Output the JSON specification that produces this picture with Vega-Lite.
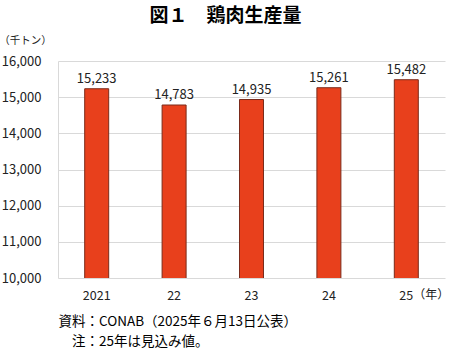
{
  "$schema": "https://vega.github.io/schema/vega-lite/v6.json",
  "width": 387,
  "height": 217,
  "autosize": "none",
  "padding": {"left": 58, "top": 61, "right": 5, "bottom": 72},
  "background": "white",
  "title": {
    "text": "図１　鶏肉生産量",
    "font": "Noto Sans CJK JP",
    "fontSize": 19,
    "fontWeight": "bold",
    "color": "#000000",
    "anchor": "middle",
    "frame": "group",
    "dx": -26,
    "offset": 9
  },
  "config": {
    "view": {"stroke": null},
    "font": "Noto Sans CJK JP"
  },
  "data": {
    "values": [
      {"year": "2021", "value": 15233},
      {"year": "22", "value": 14783},
      {"year": "23", "value": 14935},
      {"year": "24", "value": 15261},
      {"year": "25", "value": 15482}
    ]
  },
  "encoding": {
    "x": {
      "field": "year",
      "type": "nominal",
      "sort": null,
      "scale": {"paddingInner": 0.69, "paddingOuter": 0.345},
      "axis": {
        "labelAngle": 0,
        "labelFont": "Noto Sans CJK JP",
        "labelFontSize": 12.5,
        "labelColor": "#222222",
        "labelPadding": 11,
        "ticks": false,
        "domain": false,
        "title": ["資料：CONAB（2025年６月13日公表）", "\u200b\u3000注：25年は見込み値。"],
        "titleFont": "Noto Sans CJK JP",
        "titleFontSize": 13.5,
        "titleFontWeight": "normal",
        "titleColor": "#000000",
        "titleAlign": "left",
        "titleAnchor": "start",
        "titleX": 0,
        "titleY": 36,
        "titleLineHeight": 20
      }
    },
    "y": {
      "field": "value",
      "type": "quantitative",
      "scale": {"domain": [10000, 16000], "nice": false, "zero": false},
      "axis": {
        "values": [10000, 11000, 12000, 13000, 14000, 15000, 16000],
        "format": ",.0f",
        "labelFont": "Noto Sans CJK JP",
        "labelFontSize": 13,
        "labelColor": "#222222",
        "labelPadding": 17,
        "ticks": false,
        "domain": true,
        "domainColor": "#d9d9d9",
        "gridColor": "#d9d9d9",
        "title": "（千トン）",
        "titleFont": "Noto Sans CJK JP",
        "titleFontSize": 10.5,
        "titleFontWeight": "normal",
        "titleColor": "#222222",
        "titleAngle": 0,
        "titleAlign": "center",
        "titleBaseline": "middle",
        "titleX": -33,
        "titleY": -21
      }
    }
  },
  "layer": [
    {
      "mark": {"type": "bar", "color": "#e8401c", "stroke": "#7a2a1a", "strokeWidth": 1, "clip": true}
    },
    {
      "mark": {"type": "text", "baseline": "bottom", "dy": -3, "fontSize": 13, "color": "#222222", "font": "Noto Sans CJK JP"},
      "encoding": {"text": {"field": "value", "type": "quantitative", "format": ",.0f"}}
    },
    {
      "data": {"values": [{"year": "25", "value": 10000, "label": "（年）"}]},
      "mark": {"type": "text", "baseline": "top", "dy": 12, "dx": 25, "fontSize": 12, "color": "#222222", "font": "Noto Sans CJK JP"},
      "encoding": {"text": {"field": "label"}}
    }
  ]
}
